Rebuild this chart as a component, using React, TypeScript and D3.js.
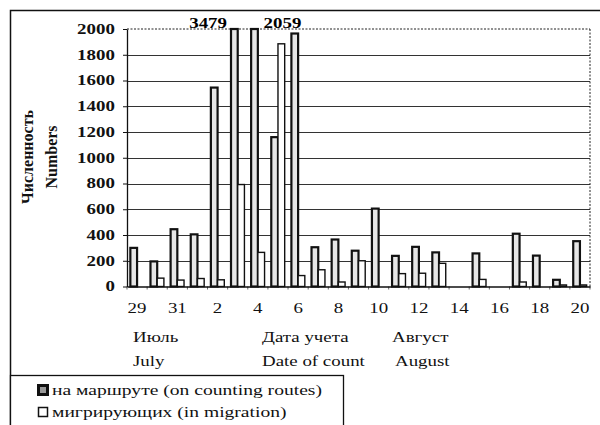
import React, { useRef, useEffect } from 'react';
import * as d3 from 'd3';

// даты учета: 29-31 июля, 1-20 августа
const dates = ['29', '30', '31', '1', '2', '3', '4', '5', '6', '7', '8', '9', '10', '11', '12', '13', '14', '15', '16', '17', '18', '19', '20'];
const tickDates = ['29', '31', '2', '4', '6', '8', '10', '12', '14', '16', '18', '20'];
const onRoutes = [300, 195, 445, 405, 1545, 3479, 2059, 1160, 1965, 305, 365, 278, 605, 238, 308, 265, 0, 257, 0, 410, 240, 52, 352];
const inMigration = [0, 65, 50, 62, 52, 792, 265, 1885, 85, 130, 35, 200, 0, 100, 103, 180, 0, 55, 0, 35, 0, 12, 12];
const yTicks = [0, 200, 400, 600, 800, 1000, 1200, 1400, 1600, 1800, 2000];
const seriesNames = ['на маршруте (on counting routes)', 'мигрирующих (in migration)'];
const yTitles = ['Численность', 'Numbers'];
const xTitlesRu = ['Июль', 'Дата учета', 'Август'];
const xTitlesEn = ['July', 'Date of count', 'August'];

const FONT = "'Liberation Serif', 'Times New Roman', 'DejaVu Serif', serif";
const SX = 1.35; // the scan is stretched horizontally

function Chart() {
  const svgRef = useRef(null);

  useEffect(() => {
    const W = 600, H = 425;
    const left = 127, right = 590, top = 29, bottom = 286.5;

    const svg = d3.select(svgRef.current);
    svg.selectAll('*').remove();
    svg.attr('width', W).attr('height', H).attr('font-family', FONT).style('background', '#fff');

    const x = d3.scaleBand().domain(dates).range([left, right]);
    const xs = d3.scaleBand().domain(['routes', 'migr']).range([0, x.bandwidth()]).paddingOuter(0.5);
    const yMax = yTicks[yTicks.length - 1];
    const y = d3.scaleLinear().domain([0, yMax]).range([bottom, top]).clamp(true);

    // outer frame
    svg.append('rect')
      .attr('x', 10.5).attr('y', 10.5).attr('width', 640).attr('height', 460)
      .attr('fill', 'none').attr('stroke', '#111').attr('stroke-width', 1.5);

    // grid
    svg.append('g').selectAll('line')
      .data(yTicks.filter(t => t > 0 && t < yMax))
      .join('line')
      .attr('x1', left).attr('x2', right)
      .attr('y1', d => Math.round(y(d)) + 0.5).attr('y2', d => Math.round(y(d)) + 0.5)
      .attr('stroke', '#333').attr('stroke-width', 1);

    // dotted plot-area border top & right
    svg.append('line')
      .attr('x1', left).attr('x2', right).attr('y1', y(yMax)).attr('y2', y(yMax))
      .attr('stroke', '#222').attr('stroke-dasharray', '2,1.5');
    svg.append('line')
      .attr('x1', right).attr('x2', right).attr('y1', y(yMax)).attr('y2', bottom)
      .attr('stroke', '#222').attr('stroke-dasharray', '2,1.5');

    // bars
    svg.append('g').selectAll('rect')
      .data(dates.map((d, i) => ({ d, v: onRoutes[i] })).filter(p => p.v > 0))
      .join('rect')
      .attr('x', p => x(p.d) + xs('routes'))
      .attr('y', p => y(p.v))
      .attr('width', xs.bandwidth())
      .attr('height', p => y(0) - y(p.v))
      .attr('fill', '#e6e6e6').attr('stroke', '#111').attr('stroke-width', 2.2);

    svg.append('g').selectAll('rect')
      .data(dates.map((d, i) => ({ d, v: inMigration[i] })).filter(p => p.v > 0))
      .join('rect')
      .attr('x', p => x(p.d) + xs('migr'))
      .attr('y', p => y(p.v))
      .attr('width', xs.bandwidth())
      .attr('height', p => y(0) - y(p.v))
      .attr('fill', '#fff').attr('stroke', '#111').attr('stroke-width', 1.4);

    // labels of clipped bars
    let k = 0;
    onRoutes.forEach((v, i) => {
      if (v <= yMax) return;
      const first = k === 0;
      const xp = first ? x(dates[i]) + xs('routes') - 4 : x(dates[i]) + xs('migr') + xs.bandwidth() - 1;
      svg.append('text')
        .attr('transform', `translate(${xp},${top - 1}) scale(${SX},1)`)
        .attr('text-anchor', first ? 'end' : 'start')
        .attr('font-family', FONT).attr('font-size', 14).attr('font-weight', 'bold')
        .text(v);
      k++;
    });

    // category ticks
    svg.append('g').selectAll('line')
      .data(d3.range(dates.length + 1))
      .join('line')
      .attr('x1', i => left + i * x.step()).attr('x2', i => left + i * x.step())
      .attr('y1', bottom).attr('y2', bottom + 3)
      .attr('stroke', '#666').attr('stroke-width', 1);

    // y axis
    const gy = svg.append('g')
      .attr('transform', `translate(${left},0)`)
      .call(d3.axisLeft(y).tickValues(yTicks).tickFormat(d3.format('d')).tickSize(4).tickSizeOuter(0).tickPadding(5));
    gy.attr('font-family', FONT).attr('font-size', 14);
    gy.select('.domain').attr('stroke', '#111').attr('stroke-width', 1.3);
    gy.selectAll('.tick line').attr('stroke', '#111');
    gy.selectAll('text')
      .attr('transform', `scale(${SX},1)`)
      .attr('font-weight', 'bold').attr('fill', '#111');

    // x axis
    const gx = svg.append('g')
      .attr('transform', `translate(0,${bottom})`)
      .call(d3.axisBottom(x).tickValues(tickDates).tickSize(0).tickSizeOuter(0).tickPadding(17));
    gx.attr('font-family', FONT).attr('font-size', 14);
    gx.select('.domain').attr('stroke', '#111').attr('stroke-width', 1.3);
    gx.selectAll('text')
      .attr('transform', `scale(${SX},1)`)
      .attr('fill', '#111');

    // x titles
    const titleX = [133, 262, 392];
    const titleXEn = [133, 262, 395];
    xTitlesRu.forEach((t, i) => {
      svg.append('text')
        .attr('transform', `translate(${titleX[i]},342) scale(${SX},1)`)
        .attr('font-family', FONT).attr('font-size', 14).attr('fill', '#111')
        .text(t);
    });
    xTitlesEn.forEach((t, i) => {
      svg.append('text')
        .attr('transform', `translate(${titleXEn[i]},366) scale(${SX},1)`)
        .attr('font-family', FONT).attr('font-size', 14).attr('fill', '#111')
        .text(t);
    });

    // y titles
    const yTitleX = [33, 57];
    yTitles.forEach((t, i) => {
      svg.append('text')
        .attr('transform', `translate(${yTitleX[i]},157) rotate(-90)`)
        .attr('text-anchor', 'middle')
        .attr('font-family', FONT).attr('font-size', 16).attr('font-weight', 'bold').attr('fill', '#111')
        .text(t);
    });

    // legend
    const lg = svg.append('g');
    lg.append('rect')
      .attr('x', 10.5).attr('y', 375.5).attr('width', 333).attr('height', 80)
      .attr('fill', '#fff').attr('stroke', '#111').attr('stroke-width', 1.3);
    lg.append('rect')
      .attr('x', 38.5).attr('y', 385.5).attr('width', 9).attr('height', 9)
      .attr('fill', '#999').attr('stroke', '#111').attr('stroke-width', 3);
    lg.append('rect')
      .attr('x', 38.5).attr('y', 407.5).attr('width', 9).attr('height', 9)
      .attr('fill', '#fff').attr('stroke', '#111').attr('stroke-width', 1.5);
    seriesNames.forEach((t, i) => {
      lg.append('text')
        .attr('transform', `translate(52,${395 + i * 22}) scale(${SX},1)`)
        .attr('font-family', FONT).attr('font-size', 14.5).attr('fill', '#111')
        .text(t);
    });
  }, []);

  return <svg ref={svgRef} style={{ position: 'absolute', left: 0, top: 0 }}></svg>;
}

export default function App() {
  return <Chart />;
}
